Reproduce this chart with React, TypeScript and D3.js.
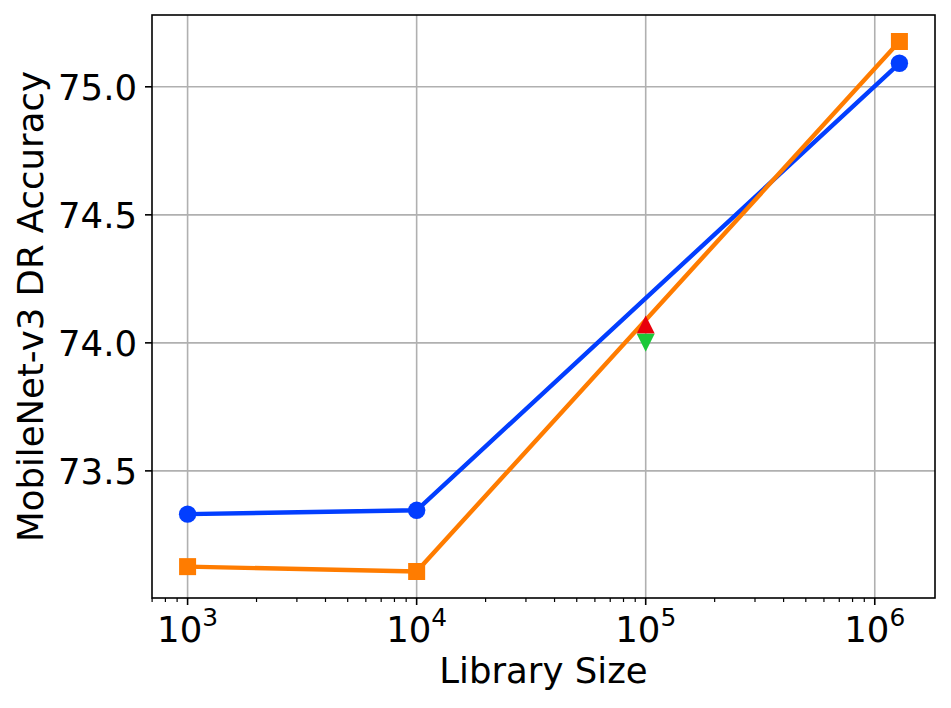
import * as d3 from "d3";

const W = 951;
const H = 708;
const margin = { left: 152, top: 15, right: 16, bottom: 110 };
const iw = W - margin.left - margin.right;
const ih = H - margin.top - margin.bottom;

// library sizes (x) and accuracies per method
const sizes = [1000, 10000, 1281167];
const blueAcc = [73.331, 73.346, 75.092];
const orangeAcc = [73.126, 73.107, 75.177];
// single points at 1e5
const midSize = 100000;
const redAcc = 74.072;
const greenAcc = 74.0;

const yTicks = [73.5, 74.0, 74.5, 75.0];
const xTickExps = [3, 4, 5, 6];

const blue = "#023eff";
const orange = "#ff7c00";
const green = "#1ac938";
const red = "#e8000b";
const font = "DejaVu Sans";
const fs = 35.5;

// matplotlib style 5% margins
const lx = sizes.map(Math.log10);
const lxPad = (d3.max(lx)! - d3.min(lx)!) * 0.05;
const allY = [...blueAcc, ...orangeAcc, redAcc, greenAcc];
const yPad = (d3.max(allY)! - d3.min(allY)!) * 0.05;

const x = d3
  .scaleLog()
  .domain([10 ** (d3.min(lx)! - lxPad), 10 ** (d3.max(lx)! + lxPad)])
  .range([0, iw]);
const y = d3
  .scaleLinear()
  .domain([d3.min(allY)! - yPad, d3.max(allY)! + yPad])
  .range([ih, 0]);

const line = d3
  .line<[number, number]>()
  .x((d) => x(d[0]))
  .y((d) => y(d[1]));

const minorTicks: number[] = [];
for (let e = 2; e <= 6; e++) {
  for (let m = 2; m <= 9; m++) {
    const v = m * 10 ** e;
    if (v >= x.domain()[0] && v <= x.domain()[1]) minorTicks.push(v);
  }
}

function triPath(s: number, down: boolean) {
  const h = s / 2;
  return down
    ? `M0,${h}L${-h},${-h}L${h},${-h}Z`
    : `M0,${-h}L${-h},${h}L${h},${h}Z`;
}

export default function App() {
  const bluePts = sizes.map((s, i) => [s, blueAcc[i]] as [number, number]);
  const orangePts = sizes.map((s, i) => [s, orangeAcc[i]] as [number, number]);
  return (
    <svg
      width={W}
      height={H}
      style={{ position: "absolute", left: 0, top: 0 }}
      fontFamily={font}
    >
      <rect width={W} height={H} fill="white" />
      <g transform={`translate(${margin.left},${margin.top})`}>
        {/* grid */}
        {xTickExps.map((e) => (
          <line
            key={"gx" + e}
            x1={x(10 ** e)}
            x2={x(10 ** e)}
            y1={0}
            y2={ih}
            stroke="#b0b0b0"
            strokeWidth={1.6}
          />
        ))}
        {yTicks.map((t) => (
          <line
            key={"gy" + t}
            x1={0}
            x2={iw}
            y1={y(t)}
            y2={y(t)}
            stroke="#b0b0b0"
            strokeWidth={1.6}
          />
        ))}

        {/* series */}
        <path d={line(bluePts)!} fill="none" stroke={blue} strokeWidth={4.4} />
        {bluePts.map((p, i) => (
          <circle key={"b" + i} cx={x(p[0])} cy={y(p[1])} r={8.7} fill={blue} />
        ))}
        <path d={line(orangePts)!} fill="none" stroke={orange} strokeWidth={4.4} />
        {orangePts.map((p, i) => (
          <rect
            key={"o" + i}
            x={x(p[0]) - 8.5}
            y={y(p[1]) - 8.5}
            width={17}
            height={17}
            fill={orange}
          />
        ))}
        <path
          d={triPath(18, false)}
          transform={`translate(${x(midSize)},${y(redAcc)})`}
          fill={red}
        />
        <path
          d={triPath(18, true)}
          transform={`translate(${x(midSize)},${y(greenAcc)})`}
          fill={green}
        />

        {/* frame */}
        <rect
          x={0}
          y={0}
          width={iw}
          height={ih}
          fill="none"
          stroke="black"
          strokeWidth={1.6}
        />

        {/* x ticks */}
        {minorTicks.map((v) => (
          <line
            key={"mt" + v}
            x1={x(v)}
            x2={x(v)}
            y1={ih}
            y2={ih + 4}
            stroke="black"
            strokeWidth={1.2}
          />
        ))}
        {xTickExps.map((e) => (
          <g key={"xt" + e} transform={`translate(${x(10 ** e)},${ih})`}>
            <line y1={0} y2={7} stroke="black" strokeWidth={1.6} />
            <text y={44} textAnchor="middle" fontSize={fs} fill="black">
              <tspan>10</tspan>
              <tspan dy={-16} fontSize={fs * 0.7}>
                {e}
              </tspan>
            </text>
          </g>
        ))}

        {/* y ticks */}
        {yTicks.map((t) => (
          <g key={"yt" + t} transform={`translate(0,${y(t)})`}>
            <line x1={0} x2={-7} stroke="black" strokeWidth={1.6} />
            <text
              x={-15}
              dy="0.36em"
              textAnchor="end"
              fontSize={fs}
              fill="black"
            >
              {t.toFixed(1)}
            </text>
          </g>
        ))}

        {/* axis labels */}
        <text
          x={iw / 2}
          y={ih + 85}
          textAnchor="middle"
          fontSize={fs}
          fill="black"
        >
          Library Size
        </text>
        <text
          transform={`translate(${-109},${ih / 2}) rotate(-90)`}
          textAnchor="middle"
          fontSize={fs}
          fill="black"
        >
          MobileNet-v3 DR Accuracy
        </text>
      </g>
    </svg>
  );
}
